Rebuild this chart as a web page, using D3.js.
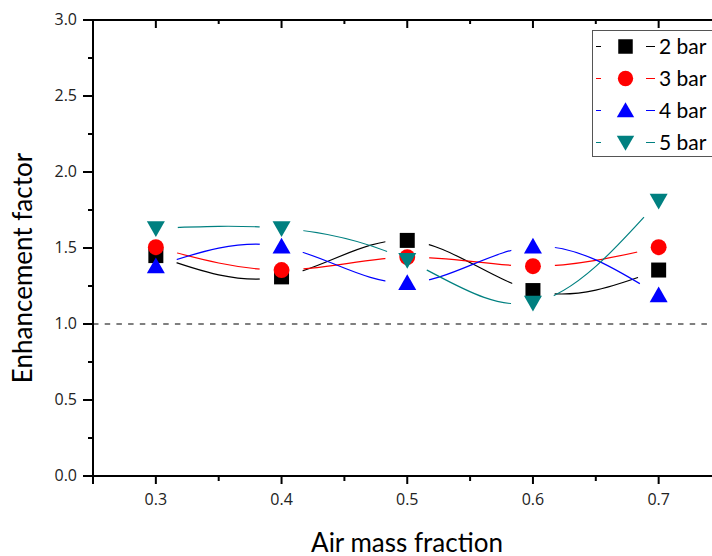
<!DOCTYPE html>
<html><head><meta charset="utf-8">
<script src="https://cdn.jsdelivr.net/npm/d3@7"></script>
<style>body{margin:0;background:#fff}svg{display:block}</style>
</head><body>
<svg id="chart" width="712" height="556"></svg>
<script>
const xValues = [0.3, 0.4, 0.5, 0.6, 0.7];
const seriesNames = ["2 bar", "3 bar", "4 bar", "5 bar"];
const bar2 = [1.45, 1.31, 1.55, 1.22, 1.355];
const bar3 = [1.505, 1.355, 1.44, 1.38, 1.505];
const bar4 = [1.38, 1.51, 1.27, 1.51, 1.19];
const bar5 = [1.63, 1.63, 1.42, 1.14, 1.81];
const xTicks = [0.3, 0.4, 0.5, 0.6, 0.7];
const yTicks = [0.0, 0.5, 1.0, 1.5, 2.0, 2.5, 3.0];
const refValue = 1.0;

const colors = ["#000000", "#ff0000", "#0000ff", "#008080"];
const shapes = ["square", "circle", "up", "down"];
const seriesData = [bar2, bar3, bar4, bar5];

const svg = d3.select("#chart");
const padLeft = 93, padTop = 20, padBottom = 476;
const x = d3.scaleLinear().domain([0.25, 0.75]).range([padLeft, 721.5]);
const y = d3.scaleLinear().domain([0, 3]).range([padBottom, padTop]);

const defs = svg.append("defs");

// dashed reference line
svg.append("line")
  .attr("x1", x(0.25)).attr("x2", x(0.75))
  .attr("y1", y(refValue)).attr("y2", y(refValue))
  .attr("stroke", "#555").attr("stroke-width", 1.5)
  .attr("stroke-dasharray", "5.5,6.2");

// curves with gaps
const line = d3.line().x((d,i)=>x(xValues[i])).y(d=>y(d)).curve(d3.curveNatural);
seriesData.forEach((vals, si) => {
  const m = defs.append("mask").attr("id", "m"+si).attr("maskUnits","userSpaceOnUse")
    .attr("x",0).attr("y",0).attr("width",800).attr("height",600);
  m.append("rect").attr("x",0).attr("y",0).attr("width",800).attr("height",600).attr("fill","#fff");
  vals.forEach((v,i)=>{
    m.append("circle").attr("cx", x(xValues[i])).attr("cy", y(v)).attr("r", 22).attr("fill","#000");
  });
  svg.append("path").attr("d", line(vals))
    .attr("fill","none").attr("stroke", colors[si]).attr("stroke-width", 1.2)
    .attr("mask", "url(#m"+si+")");
});

function markerPath(si, size) {
  const s = shapes[si];
  if (s === "up") {
    const w = size*1.2, h = size*1.05;
    return `M0,${-h*0.55}L${w/2},${h*0.45}L${-w/2},${h*0.45}Z`;
  }
  if (s === "down") {
    const w = size*1.2, h = size*1.05;
    return `M0,${h*0.55}L${w/2},${-h*0.45}L${-w/2},${-h*0.45}Z`;
  }
  if (s === "square") return d3.symbol().type(d3.symbolSquare).size(size*size)();
  return d3.symbol().type(d3.symbolCircle).size(Math.PI*(size*0.53)*(size*0.53))();
}

// markers
seriesData.forEach((vals, si) => {
  svg.append("g").selectAll("path").data(vals).join("path")
    .attr("transform", (d,i)=>`translate(${x(xValues[i])},${y(d)})`)
    .attr("d", markerPath(si, 15))
    .attr("fill", colors[si]);
});

// axes
const axisColor = "#000";
const xMinor = d3.range(0, 11).map(i=>+(0.25 + i*0.05).toFixed(2));
const isMajorX = d => xTicks.some(t=>Math.abs(t-d)<1e-6);
// bottom
const xb = svg.append("g").attr("transform", `translate(0,${padBottom})`);
xb.append("line").attr("x1", padLeft-1).attr("x2", 730).attr("stroke", axisColor).attr("stroke-width", 2);
xb.selectAll("line.t").data(xMinor).join("line").attr("class","t")
  .attr("x1", d=>x(d)).attr("x2", d=>x(d)).attr("y1", 0)
  .attr("y2", d=> isMajorX(d) ? 8 : 5)
  .attr("stroke", axisColor).attr("stroke-width", 2);
xb.selectAll("text").data(xTicks).join("text")
  .attr("x", d=>x(d)).attr("y", 29).attr("text-anchor","middle")
  .attr("font-family","Open Sans").attr("font-size", 16).attr("fill","#222")
  .text(d=>d3.format(".1f")(d));
// top
const xt = svg.append("g").attr("transform", `translate(0,${padTop})`);
xt.append("line").attr("x1", padLeft-10).attr("x2", 730).attr("stroke", axisColor).attr("stroke-width", 2);
xt.selectAll("line.t").data(xMinor.filter(d=>d>0.26)).join("line").attr("class","t")
  .attr("x1", d=>x(d)).attr("x2", d=>x(d)).attr("y1", 0)
  .attr("y2", d=> isMajorX(d) ? 8 : 4)
  .attr("stroke", axisColor).attr("stroke-width", 2);
// left
const yMinor = d3.range(0, 13).map(i=>i*0.25);
const isMajorY = d => yTicks.some(t=>Math.abs(t-d)<1e-6);
const yl = svg.append("g").attr("transform", `translate(${padLeft},0)`);
yl.append("line").attr("y1", padTop-1).attr("y2", padBottom+8).attr("stroke", axisColor).attr("stroke-width", 2);
yl.selectAll("line.t").data(yMinor).join("line").attr("class","t")
  .attr("y1", d=>y(d)).attr("y2", d=>y(d)).attr("x1", 0)
  .attr("x2", d=> isMajorY(d) ? -10 : -5)
  .attr("stroke", axisColor).attr("stroke-width", 2);
yl.selectAll("text").data(yTicks).join("text")
  .attr("x", -16).attr("y", d=>y(d)+5).attr("text-anchor","end")
  .attr("font-family","Open Sans").attr("font-size", 16).attr("fill","#222")
  .text(d=>d3.format(".1f")(d));

// axis titles
svg.append("text").attr("x", 407).attr("y", 551.5).attr("text-anchor","middle")
  .attr("font-family","Lato").attr("font-size", 26).attr("fill","#000")
  .text("Air mass fraction");
svg.append("text").attr("transform","translate(32,268) rotate(-90)").attr("text-anchor","middle")
  .attr("font-family","Lato").attr("font-size", 26).attr("fill","#000")
  .text("Enhancement factor");

// legend
const lg = svg.append("g");
lg.append("rect").attr("x", 592.5).attr("y", 30.5).attr("width", 140).attr("height", 126)
  .attr("fill","#fff").attr("stroke","#555").attr("stroke-width",1);
seriesNames.forEach((name, si) => {
  const cy = 46.5 + si*32;
  lg.append("line").attr("x1",596).attr("x2",601).attr("y1",cy).attr("y2",cy).attr("stroke",colors[si]).attr("stroke-width",1);
  lg.append("line").attr("x1",646).attr("x2",655).attr("y1",cy).attr("y2",cy).attr("stroke",colors[si]).attr("stroke-width",1);
  lg.append("path").attr("transform",`translate(625.5,${cy})`).attr("d", markerPath(si, 14.5)).attr("fill", colors[si]);
  lg.append("text").attr("x", 659).attr("y", cy+7.5).attr("font-family","Lato").attr("font-size", 21).attr("fill","#000").text(name);
});
</script>
</body></html>
